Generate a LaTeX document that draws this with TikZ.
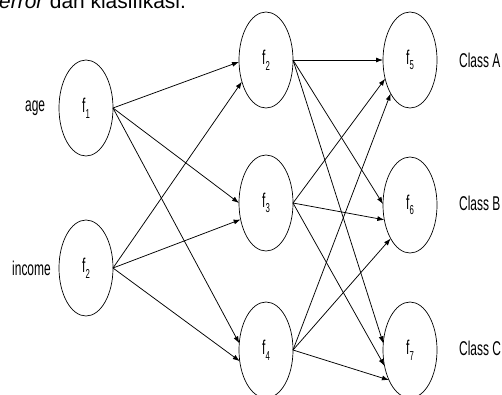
\documentclass[tikz,border=0pt]{standalone}
\usepackage{fontspec}
\setmainfont{Liberation Sans}
\usetikzlibrary{shapes.geometric,arrows.meta}
\newcommand\dlbl[1]{\scalebox{0.6}[1]{\fontsize{20}{24}\selectfont #1}}
\newcommand\fsub[2]{\dlbl{#1\raisebox{-0.28em}{\fontsize{13}{13}\selectfont #2}}}
\tikzset{
  neuron/.style={ellipse,draw,line width=0.7bp,minimum width=54bp,minimum height=96bp,inner sep=0pt,outer sep=0pt},
  conn/.style={line width=0.75bp,-{Latex[length=7bp,width=5bp]}},
  lab/.style={anchor=west,inner sep=0pt}
}
\begin{document}
\begin{tikzpicture}[x=1bp,y=-1bp]
\useasboundingbox (0,0) rectangle (502,394);
\clip (0,0) rectangle (502,394);
\node[anchor=base west,inner sep=0pt] (head) at (-1,8) {\fontsize{21}{25}\selectfont\textit{error} dan klasifikasi.};
% input layer
\node[neuron] (i1) at (86,108) {\fsub{f}{1}};
\node[neuron] (i2) at (86,268) {\fsub{f}{2}};
% hidden layer
\node[neuron] (h2) at (266,60) {\fsub{f}{2}};
\node[neuron] (h3) at (266,203) {\fsub{f}{3}};
\node[neuron] (h4) at (266,350) {\fsub{f}{4}};
% output layer
\node[neuron] (o5) at (410,60) {\fsub{f}{5}};
\node[neuron] (o6) at (410,205) {\fsub{f}{6}};
\node[neuron] (o7) at (410,350) {\fsub{f}{7}};
% labels
\node[lab] (age) at (25,108) {\dlbl{age}};
\node[lab] (inc) at (12,268) {\dlbl{income}};
\node[lab] (ca) at (459,60) {\dlbl{Class A}};
\node[lab] (cb) at (459,203) {\dlbl{Class B}};
\node[lab] (cc) at (459,348) {\dlbl{Class C}};
% connectors input -> hidden
\draw[conn] (i1.east) -- (h2.184);
\draw[conn] (i1.east) -- (h3.180);
\draw[conn] (i1.east) -- (h4.166);
\draw[conn] (i2.east) -- (h2.222);
\draw[conn] (i2.east) -- (h3.213);
\draw[conn] (i2.east) -- (h4.203);
% hidden -> output
\draw[conn] (h2.east) -- (o5.180);
\draw[conn] (h2.east) -- (o6.178);
\draw[conn] (h2.east) -- (o7.166);
\draw[conn] (h3.east) -- (o5.217);
\draw[conn] (h3.east) -- (o6.210);
\draw[conn] (h3.east) -- (o7.212);
\draw[conn] (h4.east) -- (o5.240);
\draw[conn] (h4.east) -- (o6.240);
\draw[conn] (h4.east) -- (o7.235);
\end{tikzpicture}
\end{document}
